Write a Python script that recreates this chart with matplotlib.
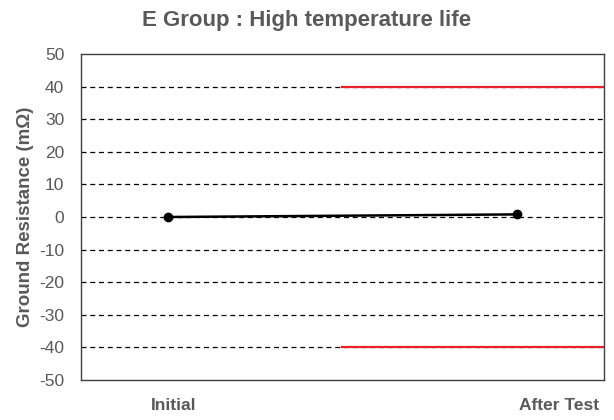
import matplotlib.pyplot as plt
from matplotlib import font_manager

# data
stages = ["Initial", "After Test"]
stage_x = [0, 1]
resistance = [0.0, 0.8]
upper_limit = 40
lower_limit = -40
limit_span = [0.5, 1.25]
y_ticks = list(range(-50, 51, 10))
grid_levels = list(range(-40, 41, 10))

names = [f.name for f in font_manager.fontManager.ttflist]
if "Liberation Sans Narrow" in names:
	plt.rcParams['font.family'] = ['Liberation Sans Narrow', 'DejaVu Sans']
else:
	plt.rcParams['font.family'] = ['Liberation Sans', 'DejaVu Sans']

gray = "#595959"

fig = plt.figure(figsize=(6.14, 4.2), dpi=100)
ax = fig.add_axes([0.1319, 0.0952, 0.8518, 0.7762])

for lv in grid_levels:
	ax.axhline(lv, color="black", lw=0.9, ls=(0, (4, 3)), zorder=1)

ax.plot(limit_span, [upper_limit, upper_limit], color="#e8202a", lw=1.6, zorder=2)
ax.plot(limit_span, [lower_limit, lower_limit], color="#e8202a", lw=1.6, zorder=2)

ax.plot(stage_x, resistance, color="black", lw=1.8, marker="o", ms=6, zorder=3)

ax.set_xlim(-0.25, 1.25)
ax.set_ylim(-50, 50)
ax.set_yticks(y_ticks)
ax.set_yticklabels([str(v) for v in y_ticks], color=gray, fontsize=12.5)
ax.tick_params(axis="y", length=0, pad=12)

ax.set_xticks([0.017, 1.12])
ax.set_xticklabels(stages, color=gray, fontsize=12.5, fontweight="bold")
ax.tick_params(axis="x", length=0, pad=13)

for s in ax.spines.values():
	s.set_color("#404040")
	s.set_linewidth(1.0)

ax.set_ylabel("Ground Resistance (mΩ)", color=gray, fontsize=13.5, fontweight="bold", labelpad=4)
fig.text(0.5, 0.952, "E Group : High temperature life", ha="center", va="center",
	color=gray, fontsize=16, fontweight="bold")

fig.savefig("out.png", dpi=100)
